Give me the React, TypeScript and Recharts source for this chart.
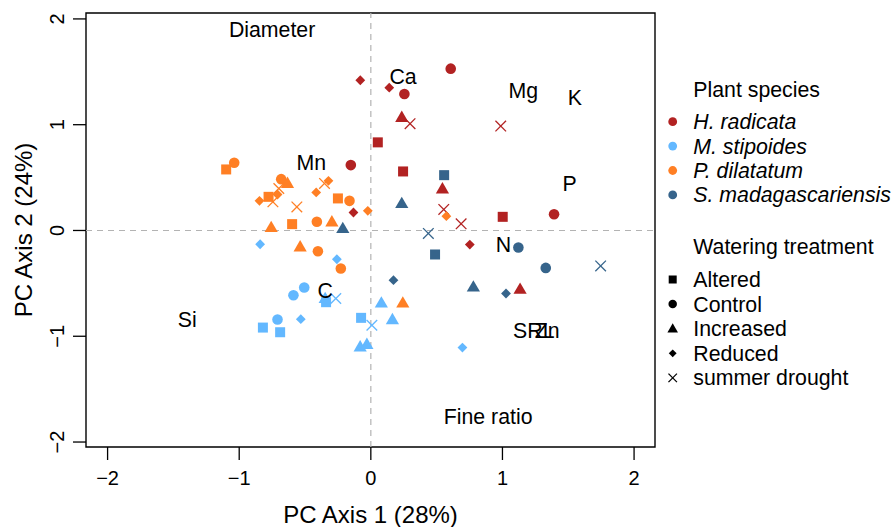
import React from 'react';
import {
  ScatterChart, Scatter, XAxis, YAxis, ReferenceLine, ReferenceArea,
} from 'recharts';

// ---- data ----
const X_DOMAIN: [number, number] = [-2.164, 2.159];
const Y_DOMAIN: [number, number] = [-2.047, 2.056];
const AXIS_TICKS = [-2, -1, 0, 1, 2];

// treatment codes: A Altered, C Control, I Increased, R Reduced, S summer drought
const H_RADICATA: [number, number, string][] = [
  [-0.08, 1.42, 'R'], [0.14, 1.35, 'R'], [0.255, 1.29, 'C'], [0.607, 1.53, 'C'],
  [0.235, 1.07, 'I'], [0.298, 1.01, 'S'], [0.987, 0.987, 'S'], [0.053, 0.833, 'A'],
  [-0.152, 0.618, 'C'], [0.245, 0.558, 'A'], [0.544, 0.394, 'I'], [0.554, 0.199, 'S'],
  [0.686, 0.063, 'S'], [-0.132, 0.17, 'R'], [0.752, -0.133, 'R'], [1.002, 0.129, 'A'],
  [1.392, 0.154, 'C'], [1.134, -0.555, 'I'],
];
const M_STIPOIDES: [number, number, string][] = [
  [-0.841, -0.13, 'R'], [-0.258, -0.272, 'R'], [-0.588, -0.612, 'C'], [-0.506, -0.539, 'C'],
  [-0.347, -0.643, 'I'], [-0.34, -0.678, 'A'], [-0.266, -0.643, 'S'], [-0.532, -0.839, 'R'],
  [-0.709, -0.842, 'C'], [-0.82, -0.918, 'A'], [-0.689, -0.962, 'A'], [-0.074, -0.826, 'A'],
  [0.008, -0.896, 'S'], [0.08, -0.685, 'I'], [0.164, -0.842, 'I'], [-0.081, -1.1, 'I'],
  [-0.03, -1.076, 'I'], [0.696, -1.107, 'R'],
];
const P_DILATATUM: [number, number, string][] = [
  [-1.099, 0.577, 'A'], [-1.038, 0.64, 'C'], [-0.681, 0.485, 'C'], [-0.633, 0.445, 'I'],
  [-0.699, 0.397, 'S'], [-0.709, 0.34, 'R'], [-0.777, 0.318, 'A'], [-0.846, 0.28, 'R'],
  [-0.744, 0.271, 'S'], [-0.562, 0.223, 'S'], [-0.322, 0.469, 'R'], [-0.352, 0.445, 'S'],
  [-0.415, 0.36, 'R'], [-0.25, 0.303, 'A'], [-0.162, 0.28, 'C'], [-0.023, 0.186, 'R'],
  [-0.757, 0.028, 'I'], [-0.598, 0.06, 'A'], [-0.41, 0.082, 'C'], [-0.296, 0.082, 'I'],
  [-0.537, -0.155, 'I'], [-0.402, -0.196, 'C'], [-0.228, -0.36, 'C'], [0.243, -0.685, 'I'],
  [0.574, 0.135, 'R'],
];
const S_MADAGASCARIENSIS: [number, number, string][] = [
  [0.557, 0.523, 'A'], [0.235, 0.255, 'I'], [-0.213, 0.019, 'I'], [0.437, -0.028, 'S'],
  [0.488, -0.227, 'A'], [0.172, -0.47, 'R'], [0.779, -0.534, 'I'], [1.027, -0.596, 'R'],
  [1.121, -0.161, 'C'], [1.329, -0.354, 'C'], [1.746, -0.335, 'S'],
];

const LOADINGS: { x: number; y: number; name: string }[] = [
  { x: -0.75, y: 1.903, name: 'Diameter' },
  { x: 0.245, y: 1.452, name: 'Ca' },
  { x: 1.159, y: 1.32, name: 'Mg' },
  { x: 1.551, y: 1.256, name: 'K' },
  { x: -0.453, y: 0.641, name: 'Mn' },
  { x: 1.511, y: 0.447, name: 'P' },
  { x: 1.007, y: -0.136, name: 'N' },
  { x: -0.347, y: -0.572, name: 'C' },
  { x: -1.395, y: -0.841, name: 'Si' },
  { x: 1.238, y: -0.945, name: 'SRL' },
  { x: 1.339, y: -0.945, name: 'Zn' },
  { x: 0.891, y: -1.755, name: 'Fine ratio' },
];

const SPECIES = [
  { name: 'H. radicata', color: '#B22222', pts: H_RADICATA },
  { name: 'M. stipoides', color: '#63B8FF', pts: M_STIPOIDES },
  { name: 'P. dilatatum', color: '#FF7F24', pts: P_DILATATUM },
  { name: 'S. madagascariensis', color: '#36648B', pts: S_MADAGASCARIENSIS },
];
const TREATMENTS = [
  { code: 'A', name: 'Altered' },
  { code: 'C', name: 'Control' },
  { code: 'I', name: 'Increased' },
  { code: 'R', name: 'Reduced' },
  { code: 'S', name: 'summer drought' },
];

const FONT = '"Liberation Sans", Arial, Helvetica, sans-serif';

function Symbol({ cx, cy, code, color, s = 1 }: { cx: number; cy: number; code: string; color: string; s?: number }) {
  if (code === 'A') return <rect x={cx - 5 * s} y={cy - 5 * s} width={10 * s} height={10 * s} fill={color} />;
  if (code === 'C') return <circle cx={cx} cy={cy} r={5.3 * s} fill={color} />;
  if (code === 'I')
    return <polygon points={`${cx},${cy - 6.8 * s} ${cx - 6.6 * s},${cy + 4.6 * s} ${cx + 6.6 * s},${cy + 4.6 * s}`} fill={color} />;
  if (code === 'R')
    return <polygon points={`${cx},${cy - 4.9 * s} ${cx + 4.9 * s},${cy} ${cx},${cy + 4.9 * s} ${cx - 4.9 * s},${cy}`} fill={color} />;
  const d = 5.3 * s;
  return (
    <g stroke={color} strokeWidth={1.3}>
      <line x1={cx - d} y1={cy - d} x2={cx + d} y2={cy + d} />
      <line x1={cx - d} y1={cy + d} x2={cx + d} y2={cy - d} />
    </g>
  );
}

const fmt = (v: number) => (v < 0 ? '\u2212' + Math.abs(v) : String(v));

const XTick = (props: any) => {
  const { x, y, payload } = props;
  return (
    <text x={x} y={y + 23} textAnchor="middle" fontSize={20} fontFamily={FONT} fill="#000">
      {fmt(payload.value)}
    </text>
  );
};
const YTick = (props: any) => {
  const { x, y, payload } = props;
  const bx = x - 7;
  return (
    <text x={bx} y={y} transform={`rotate(-90, ${bx}, ${y})`} textAnchor="middle" fontSize={20} fontFamily={FONT} fill="#000">
      {fmt(payload.value)}
    </text>
  );
};

export default function App() {
  return (
    <div style={{ position: 'absolute', left: 0, top: 0, width: 894, height: 527, background: '#fff' }}>
      <ScatterChart width={894} height={527} margin={{ top: 13, right: 239, bottom: 0, left: 0 }}>
        <XAxis
          type="number" dataKey="x" domain={X_DOMAIN} ticks={AXIS_TICKS} allowDataOverflow
          axisLine={false} tickSize={13} tickMargin={2} tickLine={{ stroke: '#000', strokeWidth: 1.3 }}
          tick={<XTick />} height={80}
          label={(p: any) => {
            const vb = p.viewBox;
            return (
              <text x={vb.x + vb.width / 2} y={vb.y + 76} textAnchor="middle" fontSize={24} fontFamily={FONT} fill="#000">
                PC Axis 1 (28%)
              </text>
            );
          }}
        />
        <YAxis
          type="number" dataKey="y" domain={Y_DOMAIN} ticks={AXIS_TICKS} allowDataOverflow
          axisLine={false} tickSize={13} tickMargin={2} tickLine={{ stroke: '#000', strokeWidth: 1.3 }}
          tick={<YTick />} width={86}
          label={(p: any) => {
            const vb = p.viewBox;
            const cx = 31.5;
            const cy = vb.y + vb.height / 2;
            return (
              <text x={cx} y={cy} transform={`rotate(-90, ${cx}, ${cy})`} textAnchor="middle" fontSize={24} fontFamily={FONT} fill="#000">
                PC Axis 2 (24%)
              </text>
            );
          }}
        />
        <ReferenceLine x={0} stroke="#b3b3b3" strokeWidth={1.2} strokeDasharray="6 5" />
        <ReferenceLine y={0} stroke="#b3b3b3" strokeWidth={1.2} strokeDasharray="6 5" />
        {SPECIES.map((sp) => (
          <Scatter
            key={sp.name}
            name={sp.name}
            data={sp.pts.map(([x, y, t]) => ({ x, y, t }))}
            isAnimationActive={false}
            shape={(p: any) => <Symbol cx={p.cx} cy={p.cy} code={p.payload.t} color={sp.color} />}
          />
        ))}
        <Scatter
          name="loadings"
          data={LOADINGS}
          isAnimationActive={false}
          shape={(p: any) => (
            <text x={p.cx} y={p.cy + 7.5} textAnchor="middle" fontSize={21.3} fontFamily={FONT} fill="#000">
              {p.payload.name}
            </text>
          )}
        />
        <ReferenceArea
          x1={X_DOMAIN[0]} x2={X_DOMAIN[1]} y1={Y_DOMAIN[0]} y2={Y_DOMAIN[1]}
          fill="none" fillOpacity={0} stroke="#000" strokeWidth={1.4} ifOverflow="visible"
        />
      </ScatterChart>
      <svg width={894} height={527} style={{ position: 'absolute', left: 0, top: 0, pointerEvents: 'none' }}>
        <text x={693.3} y={96.7} fontSize={21.3} fontFamily={FONT} fill="#000">Plant species</text>
        {SPECIES.map((sp, i) => (
          <g key={sp.name}>
            <circle cx={672.7} cy={121.7 + i * 24.4} r={4.4} fill={sp.color} />
            <text x={693.3} y={121.7 + i * 24.4 + 7.5} fontSize={21.3} fontStyle="italic" fontFamily={FONT} fill="#000">
              {sp.name}
            </text>
          </g>
        ))}
        <text x={693.3} y={254} fontSize={21.3} fontFamily={FONT} fill="#000">Watering treatment</text>
        {TREATMENTS.map((t, i) => (
          <g key={t.code}>
            <Symbol cx={672.7} cy={279.5 + i * 24.6} code={t.code} color="#000" s={0.8} />
            <text x={693.3} y={279.5 + i * 24.6 + 7.5} fontSize={21.3} fontFamily={FONT} fill="#000">
              {t.name}
            </text>
          </g>
        ))}
      </svg>
    </div>
  );
}
